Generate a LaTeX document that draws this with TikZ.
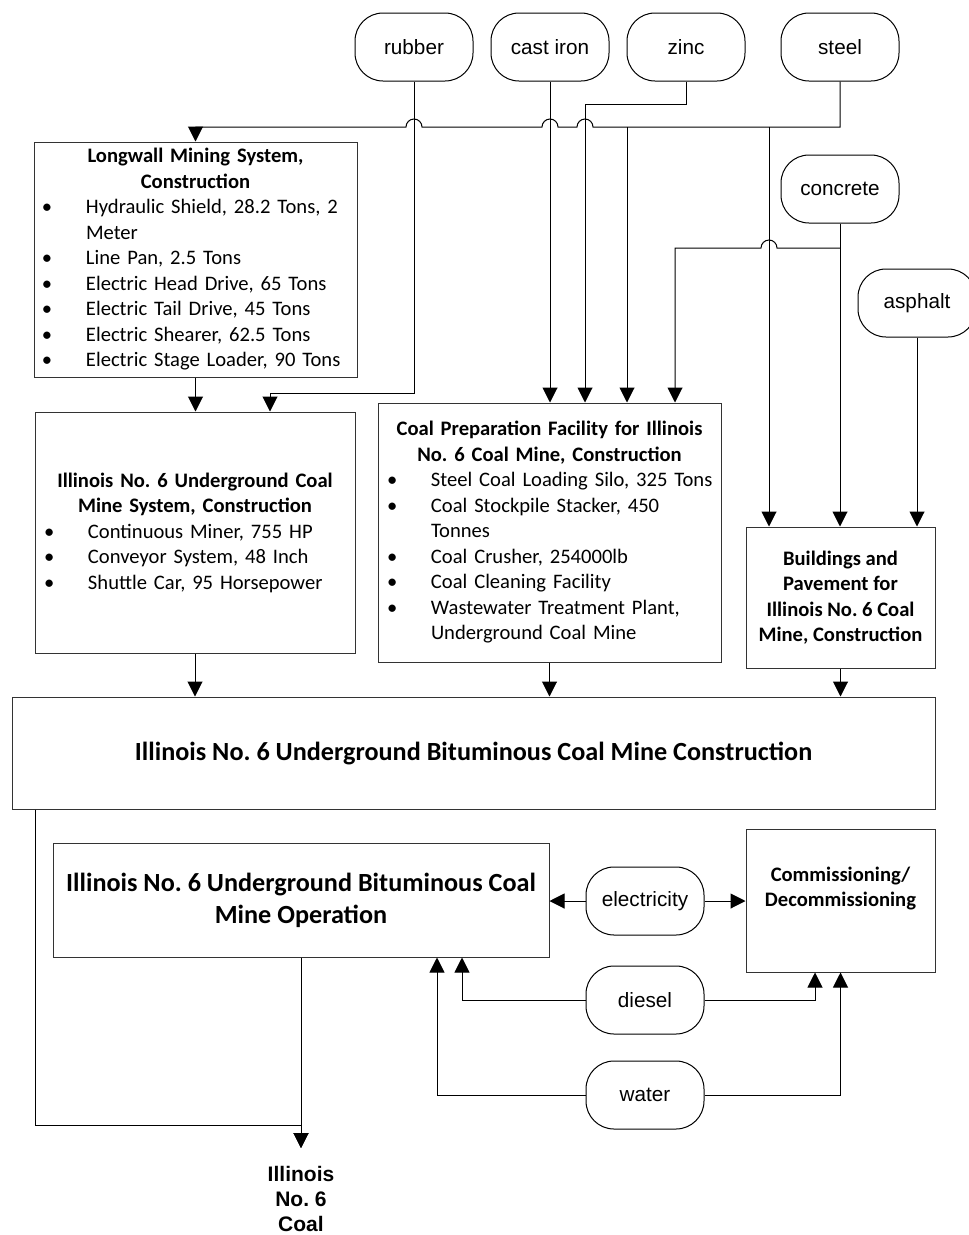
\documentclass[tikz,border=0pt]{standalone}
\usepackage{fontspec}
\setmainfont{Carlito}
\newfontfamily\arialf{Liberation Sans}
\usetikzlibrary{arrows.meta,calc}
\frenchspacing
\newcommand\bodyfont{\fontsize{20.6}{25.5}\selectfont\frenchspacing}
\newcommand\bigfont{\fontsize{26.2}{32}\selectfont\frenchspacing}
\newcommand\lblfont{\arialf\fontsize{20.7}{25}\selectfont}
\newcommand\bitem[2][52pt]{\par\leftskip=#1\rightskip=0pt plus 1fil\parfillskip=0pt plus 1fil\parindent=0pt\noindent\llap{\makebox[44pt][l]{\textbullet}}#2}
\tikzset{
  ln/.style={line width=1pt, draw=black},
  arr/.style={ln, -{Triangle[width=15pt,length=15pt]}},
  box/.style={draw=black!80, line width=1pt, inner sep=0pt, font=\bodyfont},
  term/.style={draw=black, line width=1pt, rounded corners=28pt, minimum width=118pt, minimum height=68pt, inner sep=0pt, font=\lblfont},
}
\begin{document}
\begin{tikzpicture}[x=1pt,y=-1pt]
\useasboundingbox (0,0) rectangle (969,1235);
\fill[white] (0,0) rectangle (969,1235);
% terminators
\node[term] (rubber) at (414,47) {rubber};
\node[term] (castiron) at (550,47) {cast iron};
\node[term] (zinc) at (686,47) {zinc};
\node[term] (steel) at (840,47) {steel};
\node[term] (concrete) at (840,189) {concrete};
\node[term] (asphalt) at (917,303) {asphalt};
\node[term] (elec) at (645,901) {electricity};
\node[term] (diesel) at (645,1000) {diesel};
\node[term] (water) at (645,1095) {water};
% boxes
\node[box, minimum width=323pt, minimum height=235pt, text width=323pt] (longwall) at (195.5,259.5) {%
{\centering\textbf{Longwall Mining System,\\Construction}\par}%
\bitem{Hydraulic Shield, 28.2 Tons, 2\\Meter}%
\bitem{Line Pan, 2.5 Tons}%
\bitem{Electric Head Drive, 65 Tons}%
\bitem{Electric Tail Drive, 45 Tons}%
\bitem{Electric Shearer, 62.5 Tons}%
\bitem{Electric Stage Loader, 90 Tons}\par};
\node[box, minimum width=320pt, minimum height=241pt, text width=320pt] (under) at (195,532.5) {%
{\centering\textbf{Illinois No. 6 Underground Coal\\Mine System, Construction}\par}%
\bitem[53pt]{Continuous Miner, 755 HP}%
\bitem[53pt]{Conveyor System, 48 Inch}%
\bitem[53pt]{Shuttle Car, 95 Horsepower}\par};
\node[box, minimum width=343pt, minimum height=259pt, text width=343pt] (prep) at (549.5,532.5) {%
{\centering\textbf{Coal Preparation Facility for Illinois\\No. 6 Coal Mine, Construction}\par}%
\bitem[53pt]{Steel Coal Loading Silo, 325 Tons}%
\bitem[53pt]{Coal Stockpile Stacker, 450\\Tonnes}%
\bitem[53pt]{Coal Crusher, 254000lb}%
\bitem[53pt]{Coal Cleaning Facility}%
\bitem[53pt]{Wastewater Treatment Plant,\\Underground Coal Mine}\par};
\node[box, minimum width=189pt, minimum height=141pt, align=center, font=\bodyfont\bfseries] (build) at (840.5,597.5) {Buildings and\\Pavement for\\Illinois No. 6 Coal\\Mine, Construction};
\node[box, minimum width=923pt, minimum height=112pt, align=center, font=\bigfont\bfseries] (constr) at (473.5,753) {Illinois No. 6 Underground Bituminous Coal Mine Construction};
\node[box, minimum width=496pt, minimum height=114pt, align=center, font=\bigfont\bfseries] (oper) at (301,900) {Illinois No. 6 Underground Bituminous Coal\\Mine Operation};
\node[box, minimum width=189pt, minimum height=143pt] (comm) at (840.5,900.5) {};
\node[align=center, font=\bodyfont\bfseries, inner sep=0pt] (commtxt) at (840.5,888.5) {Commissioning/\\Decommissioning};
% output
\coordinate (outtip) at (301,1148);
\node[anchor=north, align=center, font=\arialf\bfseries\fontsize{21}{25}\selectfont, inner sep=0pt] (out) at (301,1166) {Illinois\\No. 6\\Coal};
% steel bus with hops
\draw[arr] (steel.south) -- (840,127) -- (593,127) arc[start angle=0,end angle=180,radius=8pt]
  -- (558,127) arc[start angle=0,end angle=180,radius=8pt]
  -- (422,127) arc[start angle=0,end angle=180,radius=8pt]
  -- (longwall.north |- 0,127) -- (longwall.north);
\draw[arr] (627,127) -- (627,0 |- prep.north);
\draw[arr] (769,127) -- (769,0 |- build.north);
% zinc
\draw[arr] (zinc.south) -- (686,104) -- (585,104) -- (585,0 |- prep.north);
% cast iron
\draw[arr] (castiron.south) -- (castiron.south |- prep.north);
% rubber
\draw[arr] (rubber.south) -- (414,393) -- (270,393) -- (270,0 |- under.north);
% concrete
\draw[arr] (concrete.south) -- (concrete.south |- build.north);
\draw[arr] (840,248) -- (777,248) arc[start angle=0,end angle=180,radius=8pt] -- (675,248) -- (675,0 |- prep.north);
% asphalt
\draw[arr] (asphalt.south) -- (asphalt.south |- build.north);
% into construction
\draw[arr] (longwall.south) -- (longwall.south |- under.north);
\draw[arr] (under.south) -- (under.south |- constr.north);
\draw[arr] (prep.south) -- (prep.south |- constr.north);
\draw[arr] (build.south) -- (build.south |- constr.north);
% outputs
\draw[arr] (35,0 |- constr.south) -- (35,1125) -- (outtip |- 0,1125) -- (outtip);
\draw[arr] (oper.south) -- (outtip);
% energy and water
\draw[arr] (elec.west) -- (elec.west -| oper.east);
\draw[arr] (elec.east) -- (elec.east -| comm.west);
\draw[arr] (diesel.west) -| ($(oper.south)+(161,0)$);
\draw[arr] (diesel.east) -| ($(comm.south)+(-25.5,0)$);
\draw[arr] (water.west) -| ($(oper.south)+(136,0)$);
\draw[arr] (water.east) -| (comm.south);
\end{tikzpicture}
\end{document}
